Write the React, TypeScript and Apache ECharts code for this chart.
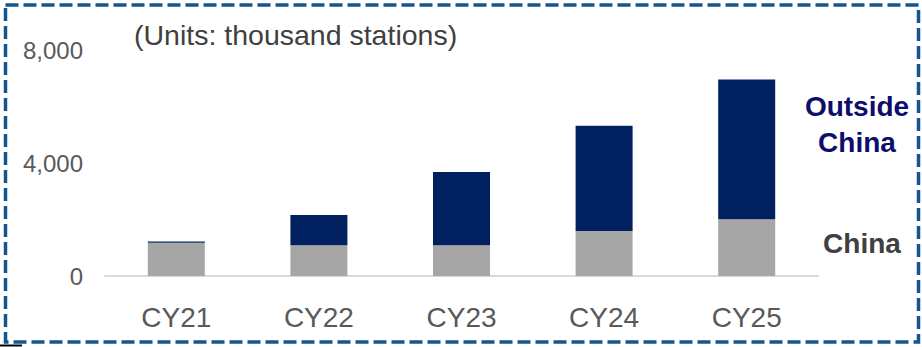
import React, { useEffect, useRef } from "react";
import * as echarts from "echarts";

// Charging stations by calendar year (thousand stations)
const categories: string[] = ["CY21", "CY22", "CY23", "CY24", "CY25"];
const chinaValues: number[] = [1180, 1090, 1090, 1590, 2010];
const outsideChinaValues: number[] = [40, 1070, 2590, 3730, 4950];
const yTicks: number[] = [0, 4000, 8000];

const unitsText = "(Units: thousand stations)";
const outsideLabel = "Outside\nChina";
const chinaLabel = "China";

const FONT = "'Liberation Sans', Arial, sans-serif";

export default function App() {
  const ref = useRef<HTMLDivElement>(null);

  useEffect(() => {
    if (!ref.current) return;
    const chart = echarts.init(ref.current, undefined, { renderer: "svg" });
    const yMax = yTicks[yTicks.length - 1];
    const yInterval = yTicks[1] - yTicks[0];

    chart.setOption({
      animation: false,
      backgroundColor: "#ffffff",
      grid: { left: 105, right: 104, top: 50, bottom: 71, containLabel: false },
      xAxis: {
        type: "category",
        data: categories,
        axisLine: { show: true, lineStyle: { color: "#D9D9D9", width: 2 } },
        axisTick: { show: false },
        axisLabel: {
          color: "#595959",
          fontSize: 28,
          fontFamily: FONT,
          margin: 27,
        },
      },
      yAxis: {
        type: "value",
        min: yTicks[0],
        max: yMax,
        interval: yInterval,
        axisLine: { show: false },
        axisTick: { show: false },
        splitLine: { show: false },
        axisLabel: {
          color: "#595959",
          fontSize: 24,
          fontFamily: FONT,
          margin: 22,
          formatter: (v: number) => v.toLocaleString("en-US"),
        },
      },
      series: [
        {
          name: "China",
          type: "bar",
          stack: "total",
          data: chinaValues,
          barWidth: 57,
          itemStyle: { color: "#A6A6A6" },
        },
        {
          name: "Outside China",
          type: "bar",
          stack: "total",
          data: outsideChinaValues,
          barWidth: 57,
          itemStyle: { color: "#002060" },
        },
      ],
      graphic: [
        {
          type: "rect",
          shape: { x: 5.5, y: 5, width: 913, height: 337 },
          style: {
            fill: "none",
            stroke: "#15558F",
            lineWidth: 3.5,
            lineDash: [13, 5],
          },
          silent: true,
        },
        {
          type: "rect",
          shape: { x: 0, y: 344.5, width: 22, height: 2 },
          style: { fill: "#000000" },
          silent: true,
        },
        {
          type: "text",
          x: 134,
          y: 35,
          style: {
            text: unitsText,
            fill: "#404040",
            font: `28.5px ${FONT}`,
            textAlign: "left",
            textVerticalAlign: "middle",
          },
        },
        {
          type: "text",
          x: 857,
          y: 124,
          style: {
            text: outsideLabel,
            fill: "#0D0D6B",
            font: `bold 28px ${FONT}`,
            lineHeight: 36,
            textAlign: "center",
            textVerticalAlign: "middle",
          },
        },
        {
          type: "text",
          x: 862,
          y: 243,
          style: {
            text: chinaLabel,
            fill: "#404040",
            font: `bold 28px ${FONT}`,
            textAlign: "center",
            textVerticalAlign: "middle",
          },
        },
      ],
    });

    return () => chart.dispose();
  }, []);

  return (
    <div
      ref={ref}
      style={{ position: "absolute", left: 0, top: 0, width: 922, height: 347 }}
    />
  );
}
